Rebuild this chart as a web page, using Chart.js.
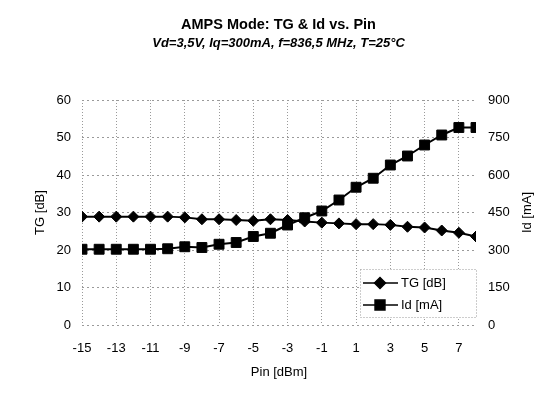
<!DOCTYPE html>
<html><head><meta charset="utf-8">
<script src="https://cdn.jsdelivr.net/npm/chart.js@4/dist/chart.umd.min.js"></script>
<style>html,body{margin:0;padding:0;background:#fff}#c{display:block}</style>
</head><body>
<canvas id="c" width="557" height="403"></canvas>
<script>
const pin = [-15,-14,-13,-12,-11,-10,-9,-8,-7,-6,-5,-4,-3,-2,-1,0,1,2,3,4,5,6,7,8];
const tgDb = [28.9,28.9,28.9,28.9,28.9,28.9,28.7,28.2,28.2,28.0,27.8,28.2,28.0,27.6,27.3,27.1,26.9,26.9,26.7,26.2,26.0,25.2,24.6,23.6];
const idMa = [303,303,303,303,303,305,313,310,323,330,354,367,400,429,456,500,551,587,640,676,720,760,790,790];
const xTicks = [-15,-13,-11,-9,-7,-5,-3,-1,1,3,5,7];
const tgTicks = [0,10,20,30,40,50,60];
const idTicks = [0,150,300,450,600,750,900];

const FONT = "'Liberation Sans', Arial, sans-serif";
const gridColor = '#9a9a9a';

const extrasPlugin = {
  id: 'extras',
  afterDraw(chart) {
    const ctx = chart.ctx;
    const area = chart.chartArea;
    ctx.save();
    // right axis title, reading bottom to top
    ctx.fillStyle = '#000'; ctx.font = '13px ' + FONT;
    ctx.textAlign = 'center'; ctx.textBaseline = 'middle';
    ctx.translate(527, (area.top + area.bottom) / 2);
    ctx.rotate(-Math.PI / 2);
    ctx.fillText('Id [mA]', 0, 0);
    ctx.restore();

    ctx.save();
    const bx = 360, by = 269, bw = 116, bh = 48;
    ctx.fillStyle = '#fff';
    ctx.fillRect(bx, by, bw + 1, bh + 1);
    ctx.strokeStyle = gridColor; ctx.lineWidth = 1; ctx.setLineDash([1,2]);
    ctx.strokeRect(bx + 0.5, by + 0.5, bw, bh);
    ctx.setLineDash([]);
    const rows = [{ds: chart.data.datasets[0], y: 283}, {ds: chart.data.datasets[1], y: 305}];
    rows.forEach(r => {
      ctx.strokeStyle = '#000'; ctx.lineWidth = 1.5;
      ctx.beginPath(); ctx.moveTo(363, r.y); ctx.lineTo(398, r.y); ctx.stroke();
      ctx.fillStyle = '#000';
      Chart.helpers.drawPoint(ctx, {pointStyle: r.ds.pointStyle, radius: r.ds.pointRadius, borderWidth: 1}, 380, r.y);
      ctx.fillStyle = '#000'; ctx.font = '13px ' + FONT; ctx.textBaseline = 'middle'; ctx.textAlign = 'left';
      ctx.fillText(r.ds.label, 401, r.y);
    });
    ctx.restore();
  }
};

new Chart(document.getElementById('c'), {
  type: 'line',
  data: {
    datasets: [
      { label: 'TG [dB]', data: pin.map((x,i)=>({x, y: tgDb[i]})), yAxisID: 'y',
        borderColor: '#000', backgroundColor: '#000', borderWidth: 2,
        pointStyle: 'rectRot', pointRadius: 5.5, pointBorderWidth: 1 },
      { label: 'Id [mA]', data: pin.map((x,i)=>({x, y: idMa[i]})), yAxisID: 'y2',
        borderColor: '#000', backgroundColor: '#000', borderWidth: 2,
        pointStyle: 'rect', pointRadius: 7, pointBorderWidth: 1 }
    ]
  },
  options: {
    responsive: false, animation: false,
    layout: { padding: 0 },
    plugins: {
      legend: { display: false }, tooltip: { enabled: false },
      title: { display: true, text: 'AMPS Mode: TG & Id vs. Pin', color: '#000',
        font: { family: FONT, size: 14.5, weight: 'bold' }, padding: { top: 16, bottom: 2 } },
      subtitle: { display: true, text: 'Vd=3,5V, Iq=300mA, f=836,5 MHz, T=25°C', color: '#000',
        font: { family: FONT, size: 13, weight: 'bold', style: 'italic' }, padding: { top: 0, bottom: 49 } }
    },
    scales: {
      x: { type: 'linear', min: -15, max: 8,
        afterBuildTicks: s => { s.ticks = xTicks.map(v => ({value: v})); },
        afterFit: s => { s.height = 78; },
        grid: { color: gridColor, drawTicks: false },
        border: { display: false, dash: [1,2] },
        ticks: { color: '#000', font: { family: FONT, size: 13 }, padding: 16, maxRotation: 0, autoSkip: false },
        title: { display: true, text: 'Pin [dBm]', color: '#000', font: { family: FONT, size: 13 }, padding: { top: 0, bottom: 23 } } },
      y: { position: 'left', min: 0, max: 60,
        afterBuildTicks: s => { s.ticks = tgTicks.map(v => ({value: v})); },
        afterFit: s => { s.width = 82; },
        grid: { color: gridColor, drawTicks: false },
        border: { display: false, dash: [2,3] },
        ticks: { color: '#000', font: { family: FONT, size: 13 }, padding: 11 },
        title: { display: true, text: 'TG [dB]', color: '#000', font: { family: FONT, size: 13 }, padding: { top: 33, bottom: 33 } } },
      y2: { position: 'right', min: 0, max: 900,
        afterBuildTicks: s => { s.ticks = idTicks.map(v => ({value: v})); },
        afterFit: s => { s.width = 81; },
        grid: { display: false, drawTicks: false },
        border: { display: false },
        ticks: { color: '#000', font: { family: FONT, size: 13 }, padding: 12 },
        title: { display: false } }
    }
  },
  plugins: [extrasPlugin]
});
</script>
</body></html>
